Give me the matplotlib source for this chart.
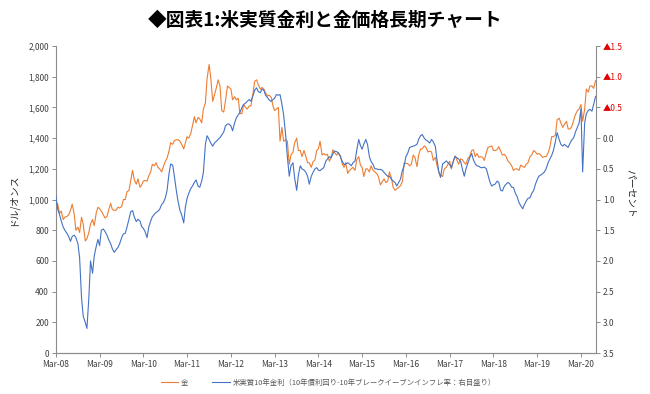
import numpy as np
import pandas as pd
import matplotlib
matplotlib.use("Agg")
import matplotlib.pyplot as plt
from matplotlib.ticker import FuncFormatter

plt.rcParams["font.family"] = ["Noto Sans CJK JP", "DejaVu Sans"]

# semi-monthly observations (1st and 15th), Mar 2008 - Jul 2020
dates = pd.date_range("2008-03-01", "2020-07-01", freq="SMS")

# gold, USD/oz
gold = [
    950, 975, 910, 925, 870, 885, 890, 900, 930, 970, 905, 800, 820, 785, 885, 840, 730, 745, 785, 840,  # 2008
    870, 830, 915, 950, 940, 925, 900, 880, 890, 930, 975, 935, 930, 930, 950, 945, 955, 1000, 1000, 1050, 1060, 1120, 1190, 1130,  # 2009
    1100, 1135, 1080, 1095, 1120, 1125, 1120, 1155, 1180, 1230, 1220, 1240, 1210, 1200, 1180, 1215, 1250, 1270, 1315, 1370, 1360, 1385, 1390, 1390,  # 2010
    1380, 1360, 1330, 1370, 1410, 1400, 1430, 1480, 1540, 1500, 1535, 1525, 1500, 1590, 1630, 1790, 1880, 1790, 1640, 1680, 1730, 1780, 1740, 1580,  # 2011
    1570, 1640, 1740, 1730, 1720, 1650, 1670, 1650, 1660, 1560, 1560, 1620, 1600, 1590, 1610, 1610, 1690, 1770, 1780, 1750, 1720, 1730, 1720, 1695,  # 2012
    1675, 1680, 1665, 1610, 1580, 1590, 1600, 1380, 1470, 1380, 1390, 1380, 1230, 1290, 1310, 1370, 1400, 1320, 1320, 1280, 1320, 1285, 1240, 1240,  # 2013
    1210, 1245, 1260, 1320, 1330, 1380, 1290, 1300, 1290, 1295, 1250, 1275, 1325, 1305, 1290, 1305, 1285, 1235, 1210, 1240, 1170, 1190, 1200, 1210,  # 2014
    1190, 1260, 1280, 1225, 1210, 1150, 1200, 1200, 1180, 1220, 1190, 1180, 1170, 1150, 1095, 1115, 1135, 1110, 1120, 1180, 1140, 1080, 1060, 1070,  # 2015
    1080, 1090, 1120, 1240, 1235, 1235, 1220, 1230, 1290, 1275, 1215, 1290, 1330, 1330, 1350, 1340, 1310, 1315, 1310, 1255, 1275, 1225, 1175, 1160,  # 2016
    1150, 1200, 1210, 1230, 1250, 1200, 1250, 1285, 1255, 1230, 1265, 1260, 1240, 1230, 1270, 1280, 1320, 1325, 1280, 1300, 1275, 1280, 1275, 1255,  # 2017
    1305, 1340, 1345, 1350, 1320, 1320, 1325, 1345, 1315, 1290, 1295, 1280, 1250, 1240, 1220, 1190, 1200, 1200, 1190, 1225, 1215, 1210, 1230, 1240,  # 2018
    1280, 1290, 1320, 1310, 1295, 1300, 1290, 1275, 1280, 1280, 1305, 1340, 1410, 1410, 1420, 1520, 1530, 1500, 1470, 1490, 1510, 1460, 1460, 1475,  # 2019
    1520, 1555, 1580, 1590, 1620, 1510, 1590, 1720, 1700, 1740, 1740, 1725, 1775,  # 2020
]

# US 10y real rate (10y yield - 10y breakeven), percent
real_rate = [
    0.95, 1.15, 1.25, 1.35, 1.45, 1.50, 1.55, 1.60, 1.68, 1.60, 1.58, 1.62, 1.72, 1.95, 2.60, 2.90, 3.00, 3.10, 2.60, 2.00,  # 2008
    2.20, 1.92, 1.76, 1.65, 1.75, 1.50, 1.48, 1.52, 1.58, 1.65, 1.72, 1.80, 1.86, 1.82, 1.78, 1.72, 1.62, 1.56, 1.55, 1.45, 1.32, 1.20, 1.18, 1.28,  # 2009
    1.36, 1.32, 1.35, 1.44, 1.47, 1.52, 1.62, 1.45, 1.35, 1.28, 1.24, 1.21, 1.19, 1.16, 1.08, 1.05, 0.97, 0.85, 0.58, 0.42, 0.44, 0.62, 0.85, 1.02,  # 2010
    1.18, 1.25, 1.38, 1.12, 0.98, 0.90, 0.82, 0.78, 0.72, 0.68, 0.78, 0.80, 0.70, 0.56, 0.10, -0.04, 0.02, 0.08, 0.13, 0.08, 0.05, 0.02, -0.01, -0.05,  # 2011
    -0.10, -0.20, -0.23, -0.23, -0.20, -0.12, -0.25, -0.33, -0.38, -0.42, -0.50, -0.55, -0.57, -0.60, -0.63, -0.60, -0.69, -0.78, -0.82, -0.76, -0.74, -0.80, -0.78, -0.70,  # 2012
    -0.66, -0.62, -0.60, -0.63, -0.65, -0.71, -0.70, -0.71, -0.55, -0.38, -0.05, 0.30, 0.62, 0.45, 0.40, 0.65, 0.85, 0.60, 0.45, 0.50, 0.52, 0.55, 0.62, 0.75,  # 2013
    0.62, 0.56, 0.50, 0.48, 0.52, 0.53, 0.50, 0.48, 0.38, 0.34, 0.30, 0.32, 0.25, 0.21, 0.22, 0.24, 0.30, 0.37, 0.43, 0.42, 0.40, 0.42, 0.45, 0.40,  # 2014
    0.37, 0.20, 0.02, 0.12, 0.18, 0.10, 0.02, 0.10, 0.30, 0.38, 0.43, 0.50, 0.50, 0.51, 0.51, 0.52, 0.56, 0.59, 0.62, 0.62, 0.67, 0.70, 0.72, 0.78,  # 2015
    0.72, 0.67, 0.52, 0.45, 0.30, 0.25, 0.15, 0.14, 0.13, 0.12, 0.10, 0.02, -0.04, -0.06, 0.00, 0.03, 0.05, 0.08, 0.02, 0.06, 0.13, 0.35, 0.55, 0.64,  # 2016
    0.42, 0.40, 0.37, 0.40, 0.43, 0.48, 0.37, 0.30, 0.32, 0.34, 0.38, 0.50, 0.62, 0.50, 0.40, 0.32, 0.25, 0.35, 0.42, 0.45, 0.46, 0.48, 0.48, 0.47,  # 2017
    0.50, 0.60, 0.72, 0.78, 0.76, 0.75, 0.70, 0.72, 0.85, 0.86, 0.78, 0.75, 0.72, 0.74, 0.80, 0.80, 0.90, 0.95, 1.05, 1.10, 1.15, 1.08, 1.02, 0.98,  # 2018
    0.97, 0.90, 0.85, 0.75, 0.68, 0.62, 0.60, 0.58, 0.55, 0.50, 0.40, 0.34, 0.28, 0.20, 0.05, -0.09, 0.02, 0.10, 0.13, 0.10, 0.13, 0.15, 0.08, 0.03,  # 2019
    -0.01, -0.10, -0.18, -0.25, -0.48, 0.55, -0.25, -0.40, -0.45, -0.47, -0.44, -0.55, -0.68,  # 2020
]

title = "◆図表1:米実質金利と金価格長期チャート"
gold_label = "金"
rate_label = "米実質10年金利（10年債利回り-10年ブレークイーブンインフレ率：右目盛り）"

ORANGE = "#ED7D31"
BLUE = "#4472C4"
GRAY = "#8c8c8c"
TXT = "#404040"

fig = plt.figure(figsize=(6.5, 3.94), dpi=100)
ax = fig.add_axes([0.086, 0.104, 0.831, 0.779])
ax2 = ax.twinx()

l1, = ax.plot(dates, gold, color=ORANGE, lw=0.8)
l2, = ax2.plot(dates, real_rate, color=BLUE, lw=0.8)

ax.set_xlim(pd.Timestamp("2008-03-01"), pd.Timestamp("2020-07-05"))
ax.set_ylim(0, 2000)
ax.set_yticks(np.arange(0, 2001, 200))
ax.yaxis.set_major_formatter(FuncFormatter(lambda v, p: f"{v:,.0f}"))

xt = pd.date_range("2008-03-01", "2020-03-01", freq="12MS")
ax.set_xticks(xt)
ax.set_xticklabels([d.strftime("%b-%y") for d in xt])

ax2.set_ylim(3.5, -1.5)
rt = np.arange(-1.5, 3.51, 0.5)
ax2.set_yticks(rt)
labs = ax2.set_yticklabels([f"▲{abs(v):.1f}" if v < 0 else f"{v:.1f}" for v in rt])

for a in (ax, ax2):
    a.spines["top"].set_visible(False)
    for s in a.spines.values():
        s.set_color(GRAY)
        s.set_linewidth(0.8)
    a.tick_params(axis="both", length=3, width=0.7, color=GRAY, labelsize=6, labelcolor=TXT, pad=2)
ax2.spines["left"].set_visible(False)
ax.spines["right"].set_visible(False)
for t in labs:
    if t.get_text().startswith("▲"):
        t.set_color("#E00000")

ax.set_ylabel("ドル/オンス", fontsize=7, color="#262626")
ax.yaxis.set_label_coords(-0.07, 0.5)
ax2.set_ylabel("パーセント", fontsize=7, color="#262626", rotation=270)
ax2.yaxis.set_label_coords(1.074, 0.52)

fig.text(0.5, 0.948, title, ha="center", va="center", fontsize=13.5, fontweight="bold")

fig.legend([l1, l2], [gold_label, rate_label], loc="center", bbox_to_anchor=(0.505, 0.028),
           ncol=2, frameon=False, fontsize=5.3, labelcolor="#595959",
           handlelength=2.4, columnspacing=3.2, handletextpad=0.4)

fig.savefig("out.png", dpi=100)
